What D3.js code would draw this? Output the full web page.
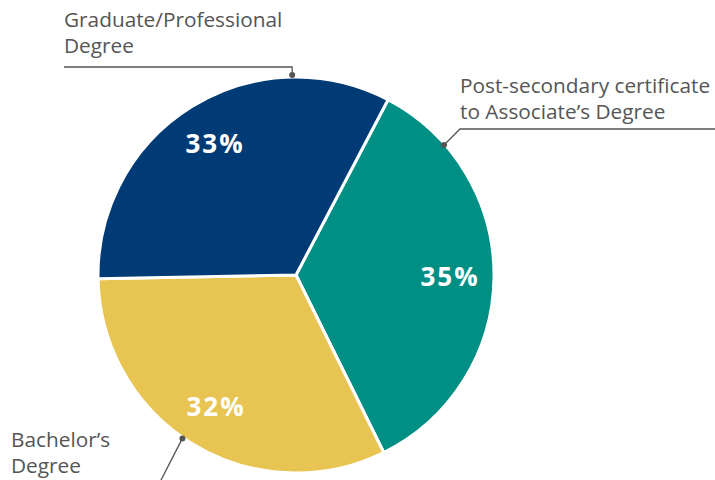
<!DOCTYPE html>
<html>
<head>
<meta charset="utf-8">
<script src="https://cdn.jsdelivr.net/npm/d3@7"></script>
<style>
  html, body { margin: 0; padding: 0; background: #fff; }
  svg { display: block; }
</style>
</head>
<body>
<svg id="chart" width="715" height="480"></svg>
<script>
// Share of credentials by level (percent)
const categories = [
  "Post-secondary certificate to Associate\u2019s Degree",
  "Bachelor\u2019s Degree",
  "Graduate/Professional Degree"
];
const values = [35, 32, 33];
const colors = ["#008F84", "#E8C552", "#003B75"];
const labelLines = [
  ["Post-secondary certificate", "to Associate\u2019s Degree"],
  ["Bachelor\u2019s", "Degree"],
  ["Graduate/Professional", "Degree"]
];

const svg = d3.select("#chart");
const cx = 296, cy = 275, R = 198;
const start = 27.7 * Math.PI / 180;

const pie = d3.pie().sort(null).value(d => d.value)
  .startAngle(start).endAngle(start + 2 * Math.PI);
const arcs = pie(categories.map((c, i) => ({ name: c, value: values[i], color: colors[i] })));

const arc = d3.arc().innerRadius(0).outerRadius(R);
const labelArc = d3.arc().innerRadius(154).outerRadius(154);

const g = svg.append("g").attr("transform", `translate(${cx},${cy})`);

g.selectAll("path.slice").data(arcs).join("path")
  .attr("class", "slice")
  .attr("d", arc)
  .attr("fill", d => d.data.color)
  .attr("stroke", "#fff")
  .attr("stroke-width", 3)
  .attr("stroke-linejoin", "round");

g.selectAll("text.pct").data(arcs).join("text")
  .attr("class", "pct")
  .attr("transform", d => `translate(${labelArc.centroid(d)})`)
  .attr("text-anchor", "middle")
  .attr("dy", "0.36em")
  .attr("fill", "#fff")
  .style("font-family", "'Open Sans', 'DejaVu Sans', sans-serif")
  .style("font-weight", 700)
  .style("font-size", "26px")
  .style("letter-spacing", "2px")
  .text(d => d.data.value + "%");

// Leader lines from the rim to each category label
const pt = (deg, r) => {
  const a = deg * Math.PI / 180;
  return [cx + r * Math.sin(a), cy - r * Math.cos(a)];
};
const leaders = [
  { dot: pt(48.7, 197), path: p => [p, [460, 129], [715, 129]], text: [460, 93], lh: 26 },
  { dot: pt(214.8, 199), path: p => [p, [160, 482]], text: [11, 447], lh: 26 },
  { dot: pt(-1.1, 200), path: p => [p, [p[0], 67], [64, 67]], text: [64, 27], lh: 26 }
];

const line = d3.line();
leaders.forEach((L, i) => {
  svg.append("path")
    .attr("d", line(L.path(L.dot)))
    .attr("fill", "none")
    .attr("stroke", "#555")
    .attr("stroke-width", 1.3);
  svg.append("circle")
    .attr("cx", L.dot[0]).attr("cy", L.dot[1]).attr("r", 3)
    .attr("fill", "#555");
  const t = svg.append("text")
    .attr("x", L.text[0]).attr("y", L.text[1])
    .attr("fill", "#555")
    .style("font-family", "'Open Sans', 'DejaVu Sans', sans-serif")
    .style("font-size", "20.8px");
  labelLines[i].forEach((s, j) => {
    t.append("tspan").attr("x", L.text[0]).attr("y", L.text[1] + j * L.lh).text(s);
  });
});
</script>
</body>
</html>
